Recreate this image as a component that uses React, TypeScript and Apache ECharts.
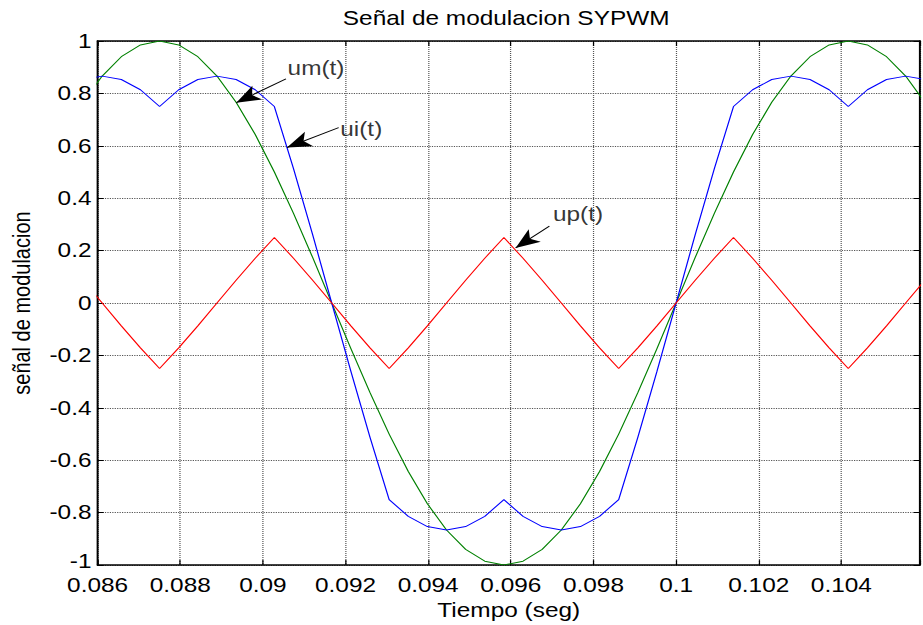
import React, { useEffect, useRef } from "react";
import * as echarts from "echarts";

// The reference figure is horizontally stretched; reproduce by a CSS scaleX.
const SX = 1.22;
const W = 923 / SX;
const H = 625;
const FONT = '"Liberation Sans", Arial, Helvetica, sans-serif';

// Time samples (s)
const T = [
  0.085648, 0.086111, 0.086574, 0.087037, 0.0875, 0.087963, 0.088426, 0.088889,
  0.089352, 0.089815, 0.090278, 0.090741, 0.091204, 0.091667, 0.09213, 0.092593,
  0.093056, 0.093519, 0.093981, 0.094444, 0.094907, 0.09537, 0.095833, 0.096296,
  0.096759, 0.097222, 0.097685, 0.098148, 0.098611, 0.099074, 0.099537, 0.1,
  0.100463, 0.100926, 0.101389, 0.101852, 0.102315, 0.102778, 0.103241, 0.103704,
  0.104167, 0.10463, 0.105093, 0.105556, 0.106019,
];

// um(t) — green
const UM = [
  0.766, 0.866, 0.94, 0.985, 1.0, 0.985, 0.94, 0.866, 0.766, 0.643, 0.5, 0.342,
  0.174, 0.0, -0.174, -0.342, -0.5, -0.643, -0.766, -0.866, -0.94, -0.985, -1.0,
  -0.985, -0.94, -0.866, -0.766, -0.643, -0.5, -0.342, -0.174, 0.0, 0.174, 0.342,
  0.5, 0.643, 0.766, 0.866, 0.94, 0.985, 1.0, 0.985, 0.94, 0.866, 0.766,
];

// up(t) — red
const UP = [
  0.087, 0.0, -0.087, -0.171, -0.25, -0.171, -0.087, 0.0, 0.087, 0.171, 0.25,
  0.171, 0.087, 0.0, -0.087, -0.171, -0.25, -0.171, -0.087, 0.0, 0.087, 0.171,
  0.25, 0.171, 0.087, 0.0, -0.087, -0.171, -0.25, -0.171, -0.087, 0.0, 0.087,
  0.171, 0.25, 0.171, 0.087, 0.0, -0.087, -0.171, -0.25, -0.171, -0.087, 0.0,
  0.087,
];

// ui(t) — blue
const UI = [
  0.853, 0.866, 0.853, 0.814, 0.75, 0.814, 0.853, 0.866, 0.853, 0.814, 0.75,
  0.513, 0.261, 0.0, -0.261, -0.513, -0.75, -0.814, -0.853, -0.866, -0.853,
  -0.814, -0.75, -0.814, -0.853, -0.866, -0.853, -0.814, -0.75, -0.513, -0.261,
  0.0, 0.261, 0.513, 0.75, 0.814, 0.853, 0.866, 0.853, 0.814, 0.75, 0.814,
  0.853, 0.866, 0.853,
];

const X_MIN = 0.086;
const X_MAX = 0.1059;
const X_STEP = 0.002;
const Y_MIN = -1;
const Y_MAX = 1;
const Y_STEP = 0.2;

const TITLE = "Señal de modulacion SYPWM";
const X_NAME = "Tiempo (seg)";
const Y_NAME = "señal de modulacion";

// Annotation texts (data coords of left-middle of the text)
const NOTE_NAMES = ["um(t)", "ui(t)", "up(t)"];
const NOTE_T = [0.090583, 0.091858, 0.097006];
const NOTE_V = [0.8974, 0.662, 0.3393];

// Arrows: from (start) to (arrow tip)
const ARROW_FROM_T = [0.090559, 0.091834, 0.096934];
const ARROW_FROM_V = [0.8557, 0.6696, 0.2937];
const ARROW_TO_T = [0.089356, 0.090583, 0.096116];
const ARROW_TO_V = [0.7646, 0.5937, 0.2102];

const zip = (xs: number[], ys: number[]) => xs.map((x, i) => [x, ys[i]]);

export default function App() {
  const ref = useRef<HTMLDivElement>(null);

  useEffect(() => {
    if (!ref.current) return;
    const chart = echarts.init(ref.current, null, { renderer: "svg" });

    const xFmt = (v: number) => {
      const k = Math.round(v / X_STEP);
      if (Math.abs(v - k * X_STEP) > 1e-7) return "";
      return String(+(k * X_STEP).toFixed(3));
    };
    const yFmt = (v: number) => {
      const s = String(+v.toFixed(1));
      return Math.abs(v - Y_MIN) < 1e-9 ? `{lo|${s}}` : s;
    };

    const baseLine = { color: "#000", width: 1.6 };
    const tick = { inside: true, length: 5, lineStyle: { color: "#000", width: 1 } };
    const grid = { show: true, lineStyle: { color: "#555", type: "dotted", width: 1 } };
    const lbl = { color: "#000", fontSize: 20, fontFamily: FONT };

    const arrowData = ARROW_FROM_T.map((_, i) => [
      { coord: [ARROW_FROM_T[i], ARROW_FROM_V[i]], symbol: "none" },
      { coord: [ARROW_TO_T[i], ARROW_TO_V[i]], symbol: "arrow" },
    ]);

    chart.setOption({
      animation: false,
      backgroundColor: "#fff",
      title: {
        text: TITLE,
        left: 281,
        top: 8,
        padding: 0,
        textStyle: { fontSize: 20, fontWeight: "normal", color: "#000", fontFamily: FONT },
      },
      grid: { left: 97.5 / SX, right: W - 925 / SX, top: 41, bottom: H - 567.7 },
      xAxis: [
        {
          type: "value",
          min: X_MIN,
          max: X_MAX,
          interval: X_STEP,
          position: "bottom",
          axisLine: { show: true, onZero: false, lineStyle: baseLine },
          axisTick: tick,
          axisLabel: { ...lbl, lineHeight: 16, margin: 12, formatter: xFmt },
          splitLine: grid,
          name: X_NAME,
          nameLocation: "middle",
          nameGap: 31,
          nameTextStyle: { ...lbl },
        },
        {
          type: "value",
          min: X_MIN,
          max: X_MAX,
          interval: X_STEP,
          position: "top",
          axisLine: { show: true, onZero: false, lineStyle: baseLine },
          axisTick: tick,
          axisLabel: { show: false },
          splitLine: { show: false },
        },
      ],
      yAxis: [
        {
          type: "value",
          min: Y_MIN,
          max: Y_MAX,
          interval: Y_STEP,
          position: "left",
          axisLine: { show: true, onZero: false, lineStyle: baseLine },
          axisTick: tick,
          axisLabel: {
            ...lbl,
            lineHeight: 16,
            margin: 5,
            formatter: yFmt,
            rich: { lo: { ...lbl, padding: [0, 0, 7, 0] } },
          },
          splitLine: grid,
          name: Y_NAME,
          nameLocation: "middle",
          nameGap: 52,
          nameTextStyle: { ...lbl },
        },
        {
          type: "value",
          min: Y_MIN,
          max: Y_MAX,
          interval: Y_STEP,
          position: "right",
          axisLine: { show: true, onZero: false, lineStyle: baseLine },
          axisTick: tick,
          axisLabel: { show: false },
          splitLine: { show: false },
        },
      ],
      series: [
        {
          name: "um(t)",
          type: "line",
          data: zip(T, UM),
          showSymbol: false,
          lineStyle: { color: "#008000", width: 1 },
          itemStyle: { color: "#008000" },
        },
        {
          name: "ui(t)",
          type: "line",
          data: zip(T, UI),
          showSymbol: false,
          lineStyle: { color: "#0000ff", width: 1 },
          itemStyle: { color: "#0000ff" },
        },
        {
          name: "up(t)",
          type: "line",
          data: zip(T, UP),
          showSymbol: false,
          lineStyle: { color: "#ff0000", width: 1 },
          itemStyle: { color: "#ff0000" },
          markLine: {
            silent: true,
            symbolSize: [12, 20],
            label: { show: false },
            lineStyle: { color: "#000", width: 1, type: "solid" },
            itemStyle: { color: "#000" },
            emphasis: { disabled: true },
            data: arrowData,
          },
        },
        {
          name: "notes",
          type: "scatter",
          symbolSize: 1,
          itemStyle: { color: "rgba(0,0,0,0)" },
          silent: true,
          data: NOTE_NAMES.map((n, i) => [NOTE_T[i], NOTE_V[i], n]),
          label: {
            show: true,
            position: "right",
            distance: 0,
            color: "#000",
            fontSize: 20,
            fontFamily: FONT,
            formatter: (p: any) => p.data[2],
          },
        },
      ],
    });

    return () => chart.dispose();
  }, []);

  return (
    <div
      style={{
        position: "fixed",
        left: 0,
        top: 0,
        width: 923,
        height: 625,
        overflow: "hidden",
        background: "#fff",
      }}
    >
      <div
        ref={ref}
        style={{ width: W, height: H, transform: `scaleX(${SX})`, transformOrigin: "0 0" }}
      />
    </div>
  );
}
